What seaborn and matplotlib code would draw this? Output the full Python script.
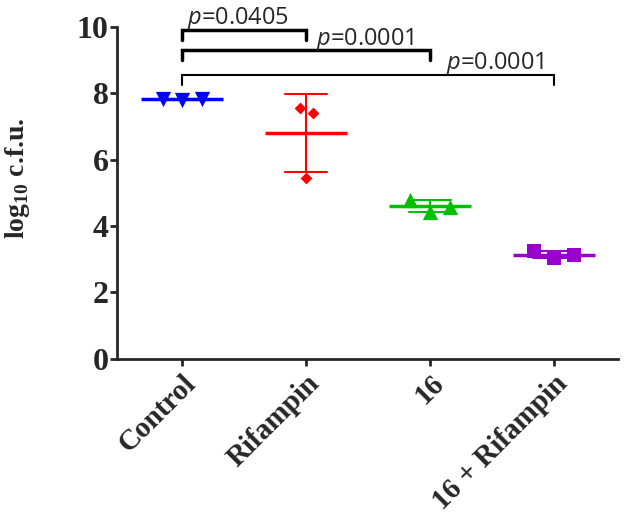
import numpy as np
import pandas as pd
import seaborn as sns
import matplotlib.pyplot as plt

groups = ["Control", "Rifampin", "16", "16 + Rifampin"]
control = [7.83, 7.80, 7.83]
rifampin = [7.56, 7.41, 5.45]
cmpd16 = [4.79, 4.43, 4.58]
combo = [3.25, 3.04, 3.13]
colors = ["#0000FF", "#FF0000", "#00C000", "#9900CC"]
markers = ["v", "D", "^", "s"]
msizes = [11, 6, 11, 10]
# slot of each replicate within its group (left to right), and number of slots
slots = [[1, 2, 3], [6, 8, 7], [1, 2, 3], [1, 2, 3]]
nslots = [5, 15, 5, 5]

# brackets: (group a, group b, height, p label)
brackets = [(0, 1, 9.9, "0.0405"), (0, 2, 9.3, "0.0001"), (0, 3, 8.55, "0.0001")]

df = pd.DataFrame({
    "group": np.repeat(groups, 3),
    "value": control + rifampin + cmpd16 + combo,
    "slot": sum(slots, []),
})

sns.set_style("ticks")
plt.rcParams["mathtext.fontset"] = "custom"
plt.rcParams["mathtext.rm"] = "Liberation Serif:bold"
plt.rcParams["mathtext.it"] = "Open Sans:italic"

fig = plt.figure(figsize=(6.25, 5.2), dpi=100)
ax = fig.add_axes([0.187, 0.31, 0.802, 0.638])

for g, c, m, s, n in zip(groups, colors, markers, msizes, nslots):
    sub = df[df["group"] == g]
    sns.stripplot(data=sub, x="group", y="value", order=groups, hue="slot",
                  hue_order=list(range(n)), palette=[c] * n, dodge=True,
                  jitter=False, marker=m, size=s, linewidth=0, legend=False,
                  ax=ax, zorder=3)

sns.pointplot(data=df, x="group", y="value", order=groups, hue="group",
              palette=colors, errorbar="sd", capsize=0.34, linestyle="none",
              marker="_", markersize=59, markeredgewidth=2.5, err_kws={"linewidth": 1.5},
              legend=False, ax=ax, zorder=2)

lw = [2.5, 2.5, 1.5]
for (a, b, h, p), w in zip(brackets, lw):
    ax.plot([a, a, b, b], [h - 0.3, h, h, h - 0.3], color="black", lw=w,
            clip_on=False, solid_joinstyle="miter")
ax.text(0.04, 10.1, "$\\it{p}$=0.0405", fontsize=17, family="Open Sans")
ax.text(1.08, 9.45, "$\\it{p}$=0.0001", fontsize=17, family="Open Sans")
ax.text(2.13, 8.75, "$\\it{p}$=0.0001", fontsize=17, family="Open Sans")

ax.set_xlim(-0.53, 3.52)
ax.set_ylim(0, 10)
ax.set_yticks([0, 2, 4, 6, 8, 10])
sns.despine(ax=ax)
ax.spines["left"].set_linewidth(2)
ax.spines["bottom"].set_linewidth(2)
ax.tick_params(axis="y", length=5, width=2, labelsize=23, pad=1)
ax.tick_params(axis="x", length=5, width=2, labelsize=21, pad=3)
for lab in ax.get_yticklabels():
    lab.set_family("Liberation Serif")
    lab.set_fontweight("bold")
ax.set_xticks(range(4))
ax.set_xticklabels(groups, rotation=45, ha="right", rotation_mode="anchor",
                   family="Liberation Serif", fontweight="bold")
ax.set_xlabel("")
ax.set_ylabel("log$_{10}$ c.f.u.", family="Liberation Serif", fontweight="bold",
              fontsize=20)
ax.yaxis.set_label_coords(-0.17, 0.545)

fig.savefig("out.png", dpi=100)
